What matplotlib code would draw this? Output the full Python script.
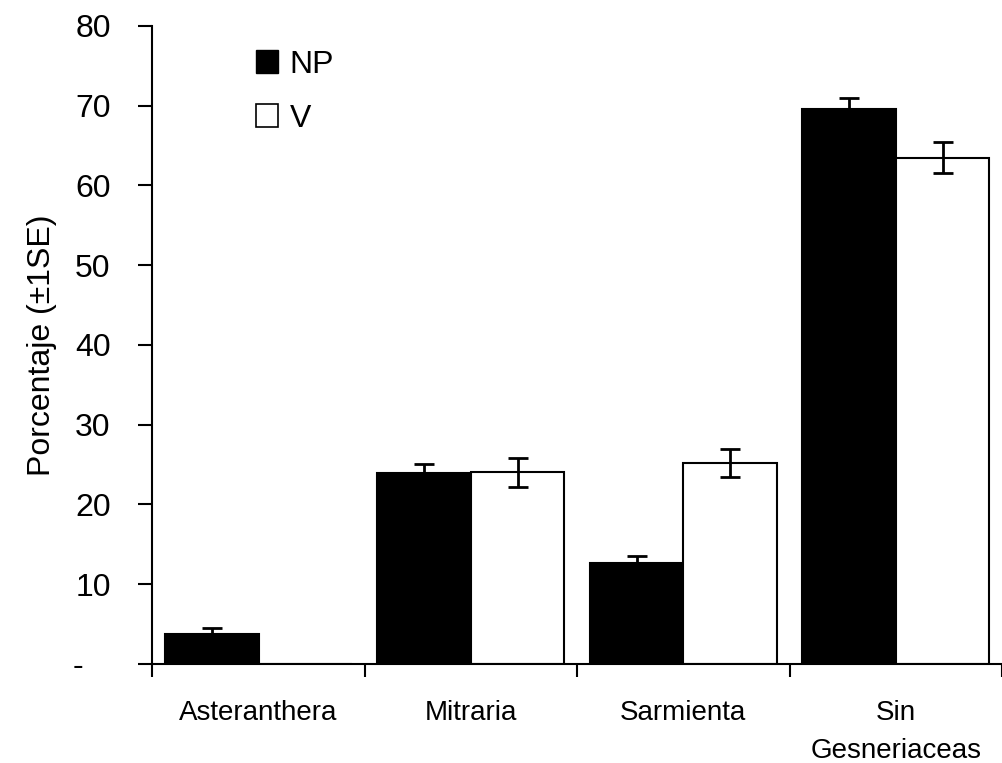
import numpy as np
import matplotlib
matplotlib.use("Agg")
import matplotlib.pyplot as plt
from matplotlib.patches import Patch

plt.rcParams['font.family'] = ['Liberation Sans', 'DejaVu Sans']

# ---- DATA ----
categories = ["Asteranthera", "Mitraria", "Sarmienta", "Sin\nGesneriaceas"]
np_mean = [3.7, 23.9, 12.6, 69.6]
np_se = [0.8, 1.1, 0.9, 1.4]
v_mean = [0.0, 24.0, 25.2, 63.5]
v_se = [0.0, 1.8, 1.8, 1.9]
yticks = [0, 10, 20, 30, 40, 50, 60, 70, 80]
ytick_labels = ["-   ", "10", "20", "30", "40", "50", "60", "70", "80"]

# ---- CHART ----
fig = plt.figure(figsize=(10.02, 7.63), dpi=100)
ax = fig.add_axes([0.152, 0.13, 0.848, 0.836])

x = np.arange(len(categories))
w = 0.44
ax.bar(x - w / 2, np_mean, width=w, color="black", edgecolor="black",
       linewidth=1.5, label="NP", zorder=2)
ax.bar(x + w / 2, v_mean, width=w, color="white", edgecolor="black",
       linewidth=1.5, label="V", zorder=2)
ax.errorbar(x - w / 2, np_mean, yerr=np_se, fmt="none", ecolor="black",
            elinewidth=2, capsize=7, capthick=2, zorder=1)
ax.errorbar((x + w / 2)[1:], v_mean[1:], yerr=v_se[1:], fmt="none",
            ecolor="black", elinewidth=2, capsize=7, capthick=2, zorder=3)

ax.set_xlim(-0.5, 3.467)
ax.set_ylim(0, 80)

# boundary ticks between groups, names centred under each group
ax.set_xticks(np.arange(len(categories) + 1) - 0.5)
ax.set_xticklabels([])
ax.set_xticks(x, minor=True)
ax.set_xticklabels(categories, minor=True, fontsize=20, linespacing=1.6)
ax.tick_params(axis="x", which="major", direction="out", length=9, width=1.5)
ax.tick_params(axis="x", which="minor", length=0, pad=26)

ax.set_yticks(yticks)
ax.set_yticklabels(ytick_labels, fontsize=23)
ax.tick_params(axis="y", direction="out", length=10, width=1.5, pad=20)

ax.set_ylabel("Porcentaje (±1SE)", fontsize=23, labelpad=12)

for s in ["top", "right"]:
    ax.spines[s].set_visible(False)
ax.spines["left"].set_linewidth(1.5)
ax.spines["bottom"].set_linewidth(1.5)

handles = [Patch(facecolor="black", edgecolor="black", label="NP"),
           Patch(facecolor="white", edgecolor="black", linewidth=1.2, label="V")]
ax.legend(handles=handles, loc="upper left", bbox_to_anchor=(0.088, 1.008),
          frameon=False, fontsize=23, handlelength=0.7, handleheight=0.7,
          handletextpad=0.35, labelspacing=0.75)

plt.savefig("out.png", dpi=100)
plt.close()
